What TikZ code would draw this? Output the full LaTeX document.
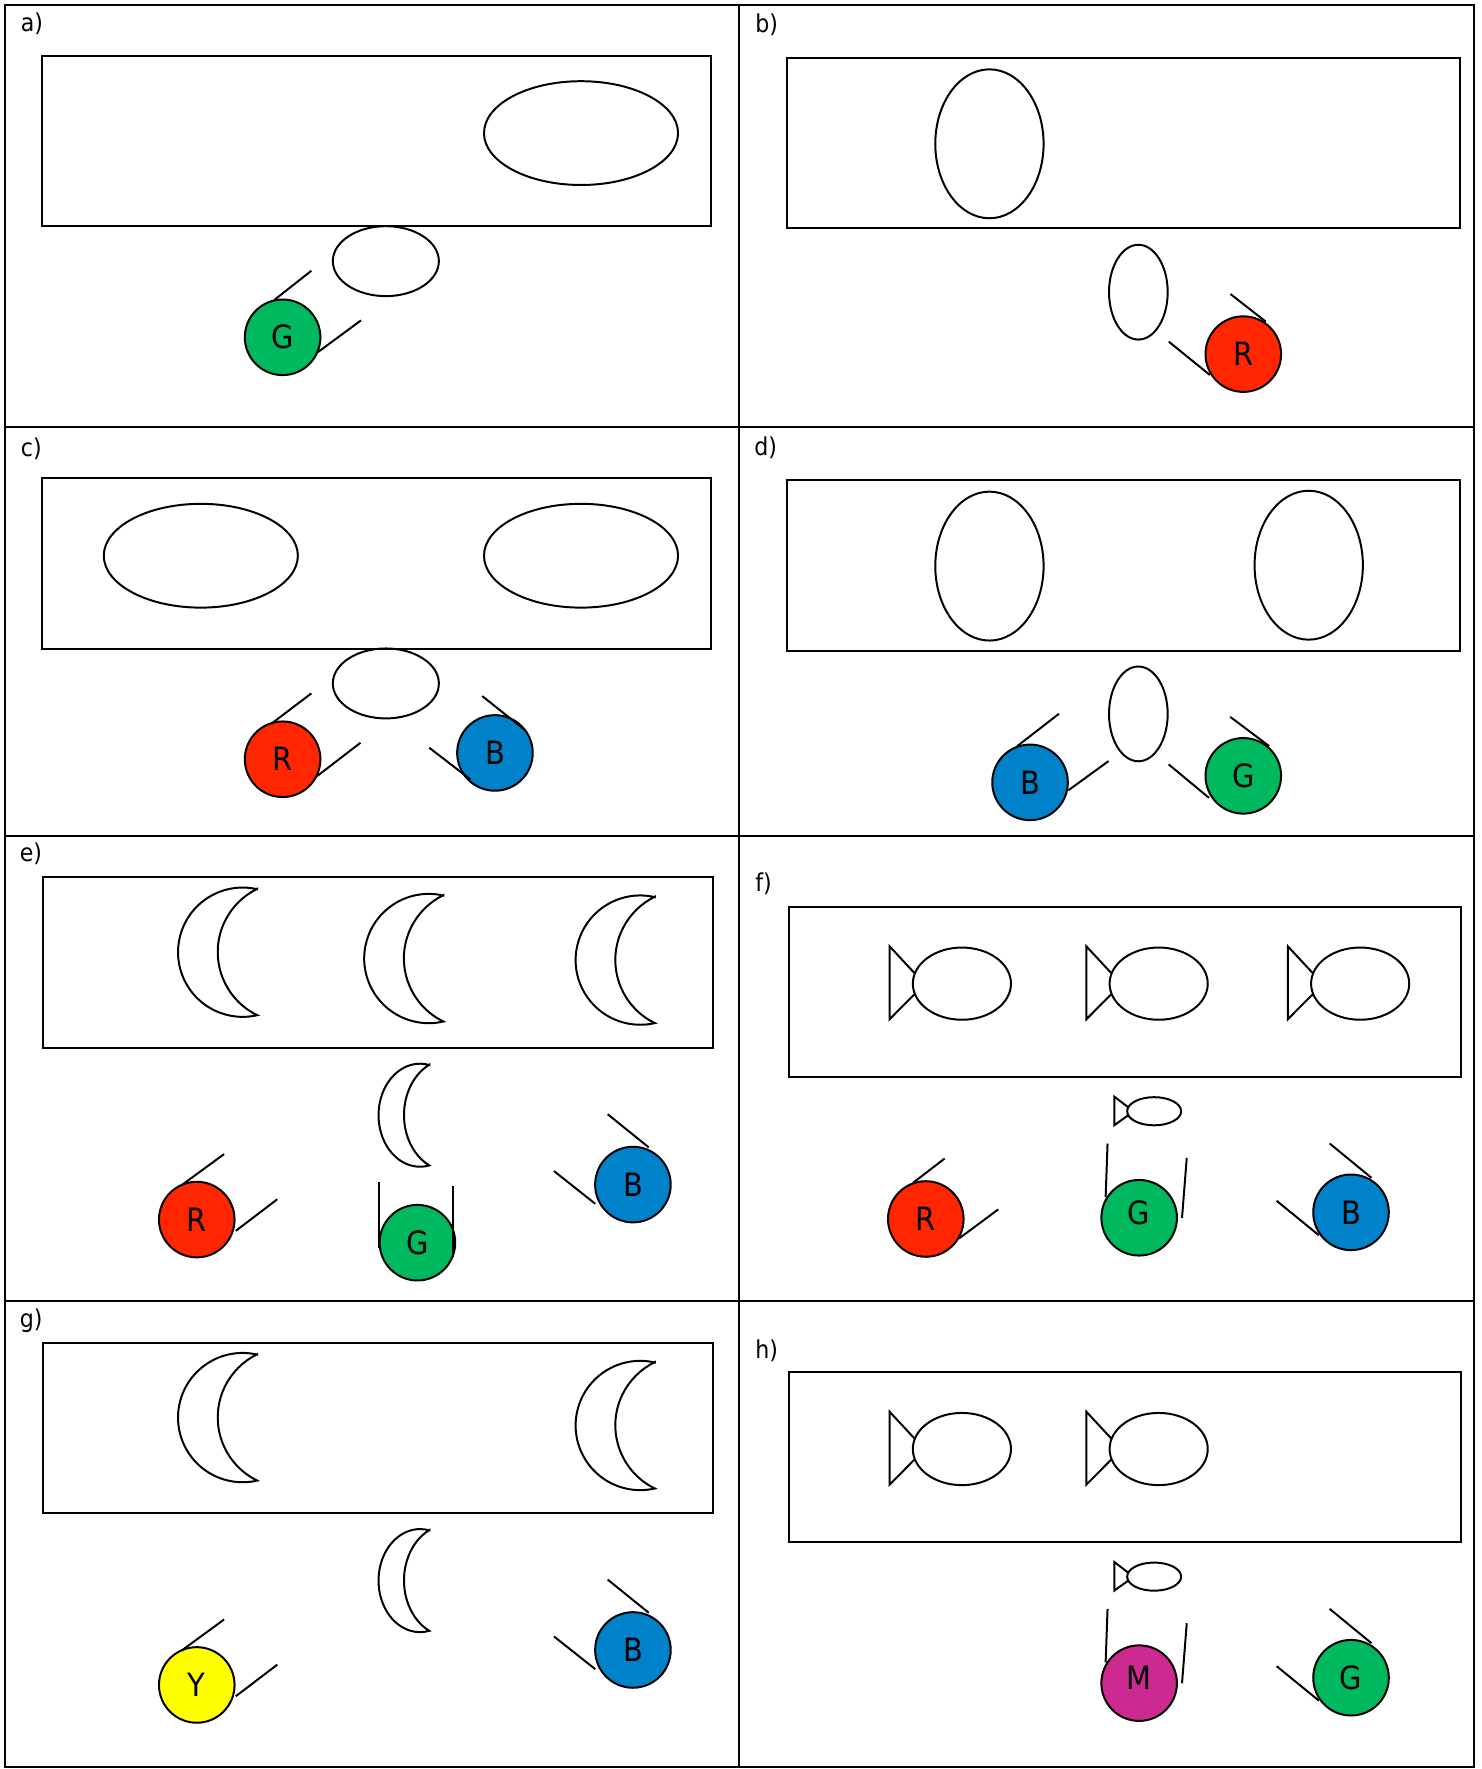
\documentclass[tikz,border=0pt]{standalone}
\usepackage{xcolor}
\usepackage{fontspec}
\setmainfont{DejaVu Sans Condensed}
\usepackage{tikz}

\definecolor{ballgreen}{RGB}{0,184,94}
\definecolor{ballred}{RGB}{255,38,0}
\definecolor{ballblue}{RGB}{0,130,202}
\definecolor{ballyellow}{RGB}{255,255,0}
\definecolor{ballmagenta}{RGB}{204,41,145}

\begin{document}
\begin{tikzpicture}[line width=0.5pt,
    ball/.style={circle,draw,minimum size=0.67cm,inner sep=0pt,font=\fontsize{8.1}{9}\selectfont},
    lbl/.style={anchor=base west,inner sep=0pt,font=\fontsize{6.2}{7}\selectfont}]
  \useasboundingbox (0,0) rectangle (13.13,15.68);
  % --- Frame ---
  \draw[line width=0.6pt] (0.045,0.015) rectangle (13.065,15.635);
  \draw[line width=0.6pt] (6.55,0.015) -- (6.55,15.635);
  \draw[line width=0.6pt] (0.045,11.897) -- (13.065,11.897);
  \draw[line width=0.6pt] (0.045,8.272) -- (13.065,8.272);
  \draw[line width=0.6pt] (0.045,4.146) -- (13.065,4.146);
  % --- a) ---
  \node[lbl] (la) at (0.176,15.40) {a)};
  \draw (0.37,13.68) rectangle (6.30,15.18);
  \draw (5.15,14.50) ellipse [x radius=.86, y radius=.46];
  \draw (3.42,13.365) ellipse [x radius=.47, y radius=.31];
  \node[ball,fill=ballgreen] (ga) at (2.505,12.69) {G};
  \draw (2.43,13.02) -- (2.76,13.28);
  \draw (2.82,12.56) -- (3.20,12.84);
  % --- b) ---
  \node[lbl] (lb) at (6.686,15.393) {b)};
  \draw (6.98,13.656) rectangle (12.94,15.163);
  \draw (8.77,14.405) ellipse [x radius=.48, y radius=.66];
  \draw (10.09,13.09) ellipse [x radius=.26, y radius=.42];
  \node[ball,fill=ballred] (rb) at (11.02,12.541) {R};
  \draw (10.906,13.074) -- (11.22,12.828);
  \draw (10.36,12.651) -- (10.724,12.356);
  % --- c) ---
  \node[lbl] (lc) at (0.176,11.637) {c)};
  \draw (0.37,9.93) rectangle (6.30,11.44);
  \draw (1.78,10.754) ellipse [x radius=.86, y radius=.46];
  \draw (5.15,10.754) ellipse [x radius=.86, y radius=.46];
  \draw (3.42,9.622) ellipse [x radius=.47, y radius=.31];
  \node[ball,fill=ballred] (rc) at (2.505,8.95) {R};
  \draw (2.404,9.264) -- (2.76,9.534);
  \draw (2.81,8.80) -- (3.195,9.096);
  \node[ball,fill=ballblue] (bc) at (4.387,9.006) {B};
  \draw (4.274,9.51) -- (4.654,9.208);
  \draw (3.805,9.052) -- (4.17,8.771);
  % --- d) ---
  \node[lbl] (ld) at (6.678,11.643) {d)};
  \draw (6.98,9.91) rectangle (12.94,11.425);
  \draw (8.77,10.662) ellipse [x radius=.48, y radius=.66];
  \draw (11.60,10.67) ellipse [x radius=.48, y radius=.66];
  \draw (10.09,9.352) ellipse [x radius=.26, y radius=.42];
  \node[ball,fill=ballblue] (bd) at (9.13,8.745) {B};
  \draw (9.016,9.066) -- (9.386,9.353);
  \draw (9.469,8.674) -- (9.826,8.934);
  \node[ball,fill=ballgreen] (gd) at (11.02,8.803) {G};
  \draw (10.904,9.326) -- (11.249,9.067);
  \draw (10.359,8.904) -- (10.716,8.608);
  % --- e) ---
  \node[lbl] (le) at (0.167,8.04) {e)};
  \draw (0.385,6.395) rectangle (6.323,7.902);
  \draw[shift={(2.28,7.24)}] (0,.558) arc[start angle=77,end angle=283,radius=.573] arc[start angle=244,end angle=116,radius=.623] -- cycle;
  \draw[shift={(3.93,7.184)}] (0,.558) arc[start angle=77,end angle=283,radius=.573] arc[start angle=244,end angle=116,radius=.623] -- cycle;
  \draw[shift={(5.804,7.17)}] (0,.558) arc[start angle=77,end angle=283,radius=.573] arc[start angle=244,end angle=116,radius=.623] -- cycle;
  \draw[shift={(3.805,5.795)},xscale=.641,yscale=.797] (0,.558) arc[start angle=77,end angle=283,radius=.573] arc[start angle=244,end angle=116,radius=.623] -- cycle;
  \node[ball,fill=ballred] (re) at (1.744,4.87) {R};
  \draw (1.61,5.175) -- (1.986,5.45);
  \draw (2.09,4.77) -- (2.458,5.05);
  \node[ball,fill=ballgreen] (ge) at (3.70,4.665) {G};
  \draw (3.36,5.204) -- (3.36,4.62);
  \draw (4.014,5.17) -- (4.014,4.54);
  \node[ball,fill=ballblue] (be) at (5.61,5.18) {B};
  \draw (5.386,5.804) -- (5.75,5.51);
  \draw (4.91,5.30) -- (5.276,5.01);
  % --- f) ---
  \node[lbl] (lf) at (6.686,7.775) {f)};
  \draw (6.99,6.135) rectangle (12.949,7.642);
  \draw[shift={(8.526,6.961)}] (-.417,.09) -- (-.64,.33) -- (-.64,-.315) -- (-.417,-.09) (0,0) ellipse [x radius=.435, y radius=.32];
  \draw[shift={(10.27,6.961)}] (-.417,.09) -- (-.64,.33) -- (-.64,-.315) -- (-.417,-.09) (0,0) ellipse [x radius=.435, y radius=.32];
  \draw[shift={(12.056,6.961)}] (-.417,.09) -- (-.64,.33) -- (-.64,-.315) -- (-.417,-.09) (0,0) ellipse [x radius=.435, y radius=.32];
  \draw[shift={(10.23,5.83)},xscale=.55,yscale=.39] (-.417,.09) -- (-.64,.33) -- (-.64,-.315) -- (-.417,-.09) (0,0) ellipse [x radius=.435, y radius=.32];
  \node[ball,fill=ballred] (rf) at (8.206,4.875) {R};
  \draw (8.092,5.195) -- (8.373,5.411);
  \draw (8.50,4.702) -- (8.848,4.96);
  \node[ball,fill=ballgreen] (gf) at (10.097,4.886) {\raisebox{.09cm}{G}};
  \draw (9.817,5.544) -- (9.80,5.07);
  \draw (10.519,5.417) -- (10.477,4.885);
  \node[ball,fill=ballblue] (bf) at (11.975,4.934) {B};
  \draw (11.786,5.544) -- (12.156,5.24);
  \draw (11.316,5.036) -- (11.69,4.731);
  % --- g) ---
  \node[lbl] (lg) at (0.167,3.916) {g)};
  \draw (0.385,2.27) rectangle (6.323,3.777);
  \draw[shift={(2.28,3.115)}] (0,.558) arc[start angle=77,end angle=283,radius=.573] arc[start angle=244,end angle=116,radius=.623] -- cycle;
  \draw[shift={(5.804,3.045)}] (0,.558) arc[start angle=77,end angle=283,radius=.573] arc[start angle=244,end angle=116,radius=.623] -- cycle;
  \draw[shift={(3.805,1.67)},xscale=.641,yscale=.797] (0,.558) arc[start angle=77,end angle=283,radius=.573] arc[start angle=244,end angle=116,radius=.623] -- cycle;
  \node[ball,fill=ballyellow] (yg) at (1.744,0.745) {Y};
  \draw (1.61,1.05) -- (1.986,1.325);
  \draw (2.09,0.645) -- (2.458,0.925);
  \node[ball,fill=ballblue] (bg) at (5.61,1.055) {B};
  \draw (5.386,1.679) -- (5.75,1.385);
  \draw (4.91,1.175) -- (5.276,0.885);
  % --- h) ---
  \node[lbl] (lh) at (6.686,3.638) {h)};
  \draw (6.99,2.01) rectangle (12.949,3.517);
  \draw[shift={(8.526,2.836)}] (-.417,.09) -- (-.64,.33) -- (-.64,-.315) -- (-.417,-.09) (0,0) ellipse [x radius=.435, y radius=.32];
  \draw[shift={(10.27,2.836)}] (-.417,.09) -- (-.64,.33) -- (-.64,-.315) -- (-.417,-.09) (0,0) ellipse [x radius=.435, y radius=.32];
  \draw[shift={(10.23,1.705)},xscale=.55,yscale=.39] (-.417,.09) -- (-.64,.33) -- (-.64,-.315) -- (-.417,-.09) (0,0) ellipse [x radius=.435, y radius=.32];
  \node[ball,fill=ballmagenta] (mh) at (10.097,0.761) {\raisebox{.09cm}{M}};
  \draw (9.817,1.419) -- (9.80,0.945);
  \draw (10.519,1.292) -- (10.477,0.76);
  \node[ball,fill=ballgreen] (gh) at (11.975,0.809) {G};
  \draw (11.786,1.419) -- (12.156,1.115);
  \draw (11.316,0.911) -- (11.69,0.606);
\end{tikzpicture}
\end{document}
